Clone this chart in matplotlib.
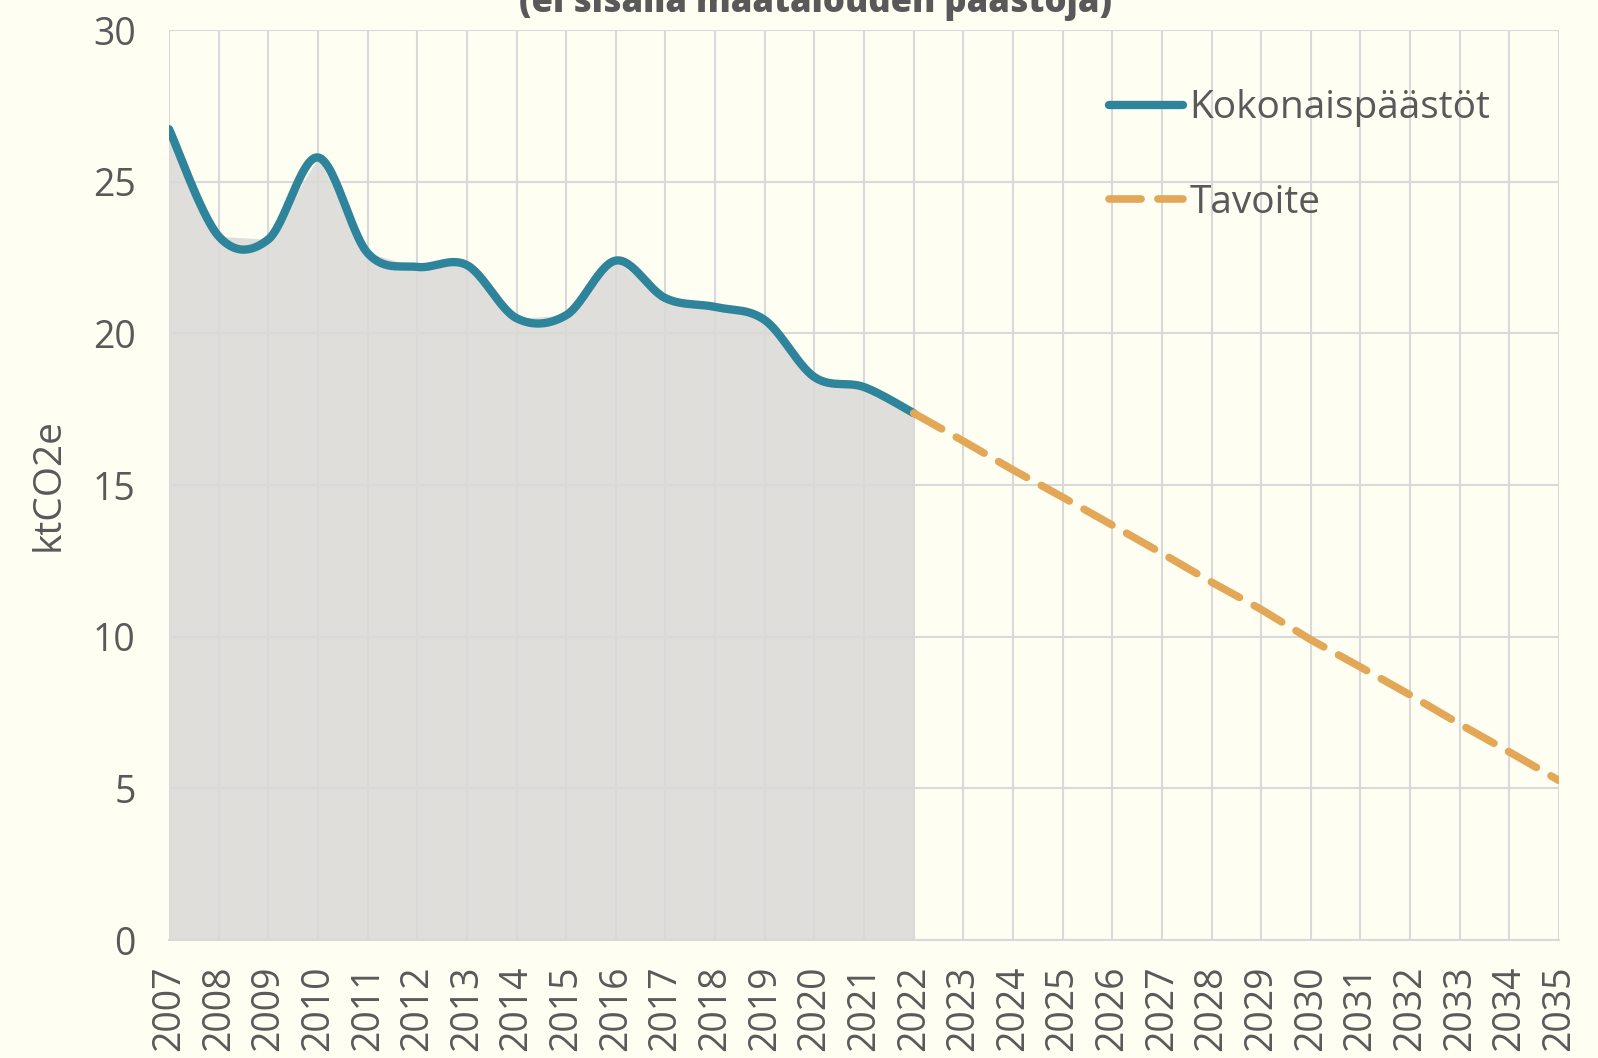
import matplotlib
matplotlib.use("Agg")
import matplotlib.pyplot as plt
import numpy as np

# --- data ---
years = list(range(2007, 2036))
hist_years = list(range(2007, 2023))
hist_values = [26.73, 23.2, 23.1, 25.8, 22.65, 22.19, 22.25, 20.5, 20.6,
               22.4, 21.16, 20.87, 20.44, 18.56, 18.23, 17.37]
target_years = list(range(2022, 2036))
target_values = [17.37, 16.45, 15.5, 14.6, 13.68, 12.75, 11.8, 10.9, 9.9,
                 9.0, 8.08, 7.12, 6.2, 5.26]

title_text = "(ei sisällä maatalouden päästöjä)"
y_label = "ktCO2e"
labels = ["Kokonaispäästöt", "Tavoite"]

BG = "#fffef2"
BLUE = "#2e849b"
ORANGE = "#e3a857"
FILL = "#dfdeda"
GRID = "#d9d9d9"
TEXT = "#595959"


def smooth(xs, ys, n=30):
    """Catmull-Rom style smoothing like Excel's smoothed line."""
    xs = np.asarray(xs, float)
    ys = np.asarray(ys, float)
    px = np.concatenate([[xs[0]], xs, [xs[-1]]])
    py = np.concatenate([[ys[0]], ys, [ys[-1]]])
    out_x, out_y = [], []
    t = np.linspace(0, 1, n)
    for i in range(1, len(px) - 2):
        p0, p1, p2, p3 = (np.array([px[j], py[j]]) for j in (i - 1, i, i + 1, i + 2))
        c1 = p1 + (p2 - p0) / 6
        c2 = p2 - (p3 - p1) / 6
        pts = ((1 - t) ** 3)[:, None] * p1 + (3 * (1 - t) ** 2 * t)[:, None] * c1 \
            + (3 * (1 - t) * t ** 2)[:, None] * c2 + (t ** 3)[:, None] * p2
        out_x.extend(pts[:, 0])
        out_y.extend(pts[:, 1])
    return np.array(out_x), np.array(out_y)


plt.rcParams["font.family"] = ["Open Sans", "DejaVu Sans"]

fig = plt.figure(figsize=(15.98, 10.58), dpi=100, facecolor=BG)
ax = fig.add_axes([0.1058, 0.1115, 0.8698, 0.8601], facecolor=BG)

ax.fill_between(hist_years, hist_values, 0, color=FILL, lw=0, zorder=1)
sx, sy = smooth(hist_years, hist_values)
ax.plot(sx, sy, color=BLUE, lw=6, solid_capstyle="round", zorder=3,
        label=labels[0])
ax.plot(target_years, target_values, color=ORANGE, lw=5.5, dashes=(4.2, 2.2),
        dash_capstyle="round", zorder=3, label=labels[1])

ax.set_xlim(2007, 2035)
ax.set_ylim(0, 30)
ax.set_xticks(years)
ax.set_xticklabels([str(y) for y in years], rotation=90)
ax.set_yticks(range(0, 31, 5))
ax.grid(True, color=GRID, lw=1.5, zorder=2)
for line in ax.get_xgridlines() + ax.get_ygridlines():
    line.set_zorder(2)
for s in ["top", "right", "left"]:
    ax.spines[s].set_visible(False)
ax.spines["bottom"].set_color(GRID)
ax.spines["bottom"].set_linewidth(1.5)
ax.tick_params(axis="both", length=0, labelsize=27, labelcolor=TEXT)
ax.tick_params(axis="y", pad=24)
ax.tick_params(axis="x", pad=18)
ax.set_ylabel(y_label, fontsize=28, color=TEXT, labelpad=18)

leg = ax.legend(loc="upper left", bbox_to_anchor=(1090 / 1598, 1 - 70 / 1058),
                bbox_transform=fig.transFigure, frameon=False, fontsize=28,
                handlelength=1.9, handletextpad=0.15, labelspacing=1.45,
                borderpad=0)
for t in leg.get_texts():
    t.set_color(TEXT)

fig.text(816 / 1598, 1 - 12 / 1058, title_text, ha="center", va="baseline",
         fontsize=25, fontweight="heavy", color=TEXT)

fig.savefig("out.png", dpi=100, facecolor=BG)
